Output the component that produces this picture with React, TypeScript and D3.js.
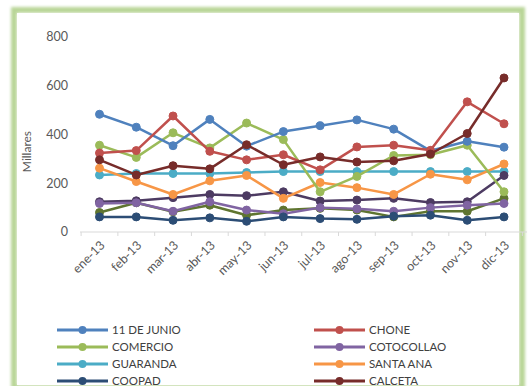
import React from 'react'
import * as d3 from 'd3'

const months = ['ene-13', 'feb-13', 'mar-13', 'abr-13', 'may-13', 'jun-13', 'jul-13', 'ago-13', 'sep-13', 'oct-13', 'nov-13', 'dic-13']
const yTicks = [0, 200, 400, 600, 800]

const junio11 = [483, 430, 354, 462, 352, 412, 436, 460, 422, 333, 372, 348]
const chone = [324, 334, 476, 331, 296, 317, 255, 349, 356, 335, 534, 444]
const comercio = [356, 306, 407, 345, 447, 379, 165, 228, 314, 317, 356, 165]
const cotocollao = [117, 120, 85, 124, 90, 75, 100, 95, 85, 100, 110, 117]
const guaranda = [234, 240, 240, 240, 244, 248, 248, 248, 248, 248, 248, 248]
const santaAna = [262, 207, 154, 210, 232, 138, 203, 182, 154, 237, 214, 279]
const coopad = [62, 62, 48, 58, 44, 62, 55, 52, 65, 69, 48, 62]
const calceta = [296, 234, 272, 259, 358, 276, 308, 287, 292, 320, 404, 632]
// two more series whose legend rows are cut off at the bottom of the picture
const extra9 = [80, 120, 83, 110, 69, 90, 97, 90, 62, 85, 85, 138]
const extra10 = [124, 128, 141, 154, 149, 165, 127, 131, 138, 121, 124, 232]

const series = [
  { name: '11 DE JUNIO', values: junio11, color: '#4F81BD', legend: true },
  { name: 'CHONE', values: chone, color: '#C0504D', legend: true },
  { name: 'COMERCIO', values: comercio, color: '#9BBB59', legend: true },
  { name: 'COTOCOLLAO', values: cotocollao, color: '#8064A2', legend: true },
  { name: 'GUARANDA', values: guaranda, color: '#4BACC6', legend: true },
  { name: 'SANTA ANA', values: santaAna, color: '#F79646', legend: true },
  { name: 'COOPAD', values: coopad, color: '#2C4D75', legend: true },
  { name: 'CALCETA', values: calceta, color: '#772C2A', legend: true },
  { name: '', values: extra9, color: '#5F7530', legend: false },
  { name: '', values: extra10, color: '#4D3B62', legend: false },
]

// draw order: first series underneath
const drawOrder = [4, 8, 9, 3, 6, 5, 2, 0, 1, 7]

const W = 529
const H = 386

export default function App() {
  const x = d3.scalePoint<string>().domain(months).range([99.5, 504])
  const y = d3.scaleLinear().domain([0, 800]).range([232, 37])
  const line = d3.line<number>().x((_, i) => x(months[i]) as number).y(d => y(d))

  const font = 'Lato, "Open Sans", sans-serif'
  const legendRows = series.filter(s => s.legend)
  const step = (504 - 99.5) / 11

  return (
    <svg width={W} height={H} style={{ position: 'absolute', left: 0, top: 0 }} fontFamily={font}>
      <defs>
        <filter id="soft" x="-5%" y="-5%" width="110%" height="110%">
          <feGaussianBlur stdDeviation="1.5" />
        </filter>
      </defs>
      <rect width={W} height={H} fill="#fff" />
      <rect x={14} y={10} width={508} height={378} fill="none" stroke="#b9d598" strokeWidth={6} filter="url(#soft)" />
      <rect x={17} y={13} width={502} height={372} fill="#fff" />

      {/* y axis labels */}
      {yTicks.map(t => (
        <text key={t} x={68} y={y(t)} dy="0.35em" textAnchor="end" fontSize={12.5} fill="#595959">{t}</text>
      ))}
      <text transform={`translate(31,${y(330)}) rotate(-90)`} textAnchor="middle" fontSize={12} fill="#595959">Millares</text>

      {/* x axis */}
      <line x1={80} x2={527} y1={y(0)} y2={y(0)} stroke="#d9d9d9" strokeWidth={1} />
      {d3.range(months.length + 1).map(i => {
        const px = 99.5 - step / 2 + i * step
        return <line key={i} x1={px} x2={px} y1={y(0)} y2={y(0) + 4} stroke="#d9d9d9" />
      })}
      {months.map(m => (
        <text key={m} transform={`translate(${(x(m) as number) + 3},${y(0) + 11}) rotate(-45)`} textAnchor="end" dy="0.35em" fontSize={12.5} fill="#595959">{m}</text>
      ))}

      {/* series */}
      {drawOrder.map(k => {
        const s = series[k]
        return (
          <g key={k}>
            <path d={line(s.values) as string} fill="none" stroke={s.color} strokeWidth={2.5} strokeLinejoin="round" />
            {s.values.map((v, i) => (
              <circle key={i} cx={x(months[i])} cy={y(v)} r={4} fill={s.color} stroke={s.color} />
            ))}
          </g>
        )
      })}

      {/* legend */}
      {legendRows.map((s, i) => {
        const col = i % 2
        const row = Math.floor(i / 2)
        const lx = col === 0 ? 57 : 314
        const ly = 330 + row * 17
        return (
          <g key={s.name}>
            <line x1={lx} x2={lx + 51} y1={ly} y2={ly} stroke={s.color} strokeWidth={3} />
            <circle cx={lx + 25.5} cy={ly} r={4} fill={s.color} />
            <text x={lx + 55} y={ly} dy="0.35em" fontSize={11.5} fill="#404040">{s.name}</text>
          </g>
        )
      })}
    </svg>
  )
}
